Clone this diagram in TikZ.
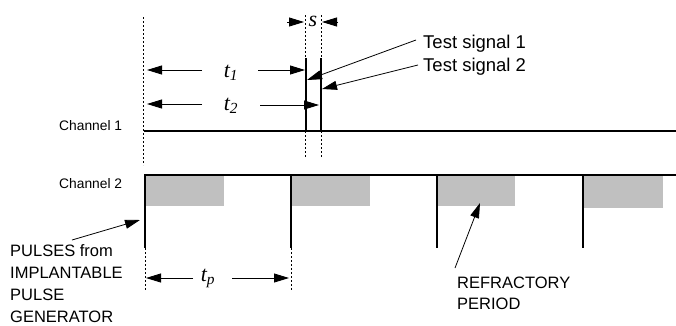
\documentclass[tikz,border=0pt]{standalone}
\usepackage{fontspec}
\setmainfont{Liberation Sans}
\newfontfamily\mathserif{Liberation Serif}
\usetikzlibrary{arrows.meta}

\definecolor{refgray}{HTML}{C0C0C0}

\tikzset{
  sig/.style={line width=1.7pt, black},
  probe/.style={line width=2pt, black},
  guide/.style={line width=0.9pt, dash pattern=on 2pt off 2pt, black},
  refbox/.style={fill=refgray, draw=none},
  dimarrow/.style={line width=0.9pt, -{Triangle[length=15pt,width=9pt]}},
  callout/.style={line width=0.8pt, -{Triangle[length=15pt,width=9pt]}},
  txt/.style={inner sep=0pt, anchor=base west},
  chlabel/.style={txt, font=\fontsize{13.8}{16}\selectfont},
  siglabel/.style={txt, font=\fontsize{18.5}{22}\selectfont},
  notelabel/.style={txt, font=\fontsize{16.5}{20}\selectfont},
  tlabel/.style={inner sep=0pt, font=\fontsize{22}{26}\selectfont\mathserif\itshape},
}

\begin{document}
\begin{tikzpicture}[x=1pt, y=-1pt]
  \useasboundingbox (0,0) rectangle (676,325);

  % refractory periods (grey) under channel 2
  \fill[refbox] (145,176) rectangle (224,206);
  \fill[refbox] (291,176) rectangle (370,206);
  \fill[refbox] (437,176) rectangle (515,206);
  \fill[refbox] (583,176) rectangle (663,208);

  % reference coordinates
  \coordinate (c1a) at (144,131);
  \coordinate (c1b) at (676,131);
  \coordinate (c2a) at (144,175);
  \coordinate (c2b) at (676,175);

  % channel lines
  \draw[sig] (c1a) -- (c1b);
  \draw[sig] (c2a) -- (c2b);

  % pulses from the generator
  \foreach \x/\n in {145/1,291/2,437/3,583/4}{
    \coordinate (pt\n) at (\x,175);
    \coordinate (pb\n) at (\x,248);
    \draw[sig] (pt\n) -- (pb\n);
  }

  % dotted guides
  \coordinate (g0a) at (143,17);
  \coordinate (g0b) at (143,165);
  \draw[guide] (g0a) -- (g0b);
  \coordinate (g1a) at (305,15);
  \coordinate (g1b) at (305,157);
  \draw[guide] (g1a) -- (g1b);
  \coordinate (g2a) at (321,15);
  \coordinate (g2b) at (321,157);
  \draw[guide] (g2a) -- (g2b);
  \coordinate (g3b) at (145,290);
  \draw[guide] (pb1) -- (g3b);
  \coordinate (g4b) at (291,290);
  \draw[guide] (pb2) -- (g4b);

  % test signals on channel 1
  \coordinate (s1t) at (306,58);
  \coordinate (s1b) at (306,131);
  \draw[probe] (s1t) -- (s1b);
  \coordinate (s2t) at (321,58);
  \coordinate (s2b) at (321,131);
  \draw[probe] (s2t) -- (s2b);

  % channel labels
  \node[chlabel] (ch1) at (59,130) {Channel 1};
  \node[chlabel] (ch2) at (59,188) {Channel 2};

  % spacing s between the test signals
  \node[tlabel] (s) at (313,21) {s};
  \coordinate (sla) at (287,22);
  \coordinate (slb) at (304,22);
  \draw[dimarrow] (sla) -- (slb);
  \coordinate (sra) at (338,22);
  \coordinate (srb) at (322,22);
  \draw[dimarrow] (sra) -- (srb);

  % t1
  \node[tlabel] (t1) at (231,73) {t\textsubscript{1}};
  \coordinate (t1l) at (202,70);
  \coordinate (t1lt) at (147,70);
  \coordinate (t1r) at (258,70);
  \coordinate (t1rt) at (305,70);
  \draw[dimarrow] (t1l) -- (t1lt);
  \draw[dimarrow] (t1r) -- (t1rt);

  % t2
  \node[tlabel] (t2) at (231,106) {t\textsubscript{2}};
  \coordinate (t2l) at (202,104);
  \coordinate (t2lt) at (147,104);
  \coordinate (t2r) at (260,105);
  \coordinate (t2rt) at (319,105);
  \draw[dimarrow] (t2l) -- (t2lt);
  \draw[dimarrow] (t2r) -- (t2rt);

  % tp
  \node[tlabel] (tp) at (208,278) {t\textsubscript{p}};
  \coordinate (tpl) at (193,278);
  \coordinate (tplt) at (146,278);
  \coordinate (tpr) at (232,278);
  \coordinate (tprt) at (289,278);
  \draw[dimarrow] (tpl) -- (tplt);
  \draw[dimarrow] (tpr) -- (tprt);

  % test signal callouts
  \node[siglabel] (ts1) at (423,48) {Test signal 1};
  \node[siglabel] (ts2) at (423,71) {Test signal 2};
  \coordinate (ts1a) at (416,40);
  \coordinate (ts1t) at (307,80);
  \draw[callout] (ts1a) -- (ts1t);
  \coordinate (ts2a) at (418,65);
  \coordinate (ts2t) at (322,89);
  \draw[callout] (ts2a) -- (ts2t);

  % pulse generator note
  \node[notelabel] (pg1) at (10,256) {PULSES from};
  \node[notelabel] (pg2) at (10,278.5) {IMPLANTABLE};
  \node[notelabel] (pg3) at (10,300.5) {PULSE};
  \node[notelabel] (pg4) at (10,322.5) {GENERATOR};
  \coordinate (pga) at (72,240);
  \coordinate (pgt) at (140,220);
  \draw[callout] (pga) -- (pgt);

  % refractory period note
  \node[notelabel] (rp1) at (457,288) {REFRACTORY};
  \node[notelabel] (rp2) at (457,309) {PERIOD};
  \coordinate (rpa) at (455,268);
  \coordinate (rpt) at (480,203);
  \draw[callout] (rpa) -- (rpt);
\end{tikzpicture}
\end{document}
